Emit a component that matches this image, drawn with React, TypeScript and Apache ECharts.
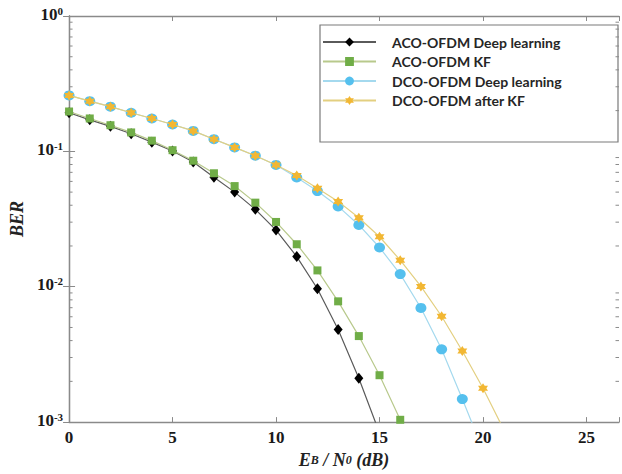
import React, { useEffect, useRef } from "react";
import * as echarts from "echarts";

// Eb/N0 (dB) sample points
const SNR = [0, 1, 2, 3, 4, 5, 6, 7, 8, 9, 10, 11, 12, 13, 14, 15, 16, 17, 18, 19, 20, 21];

// BER values
const acoDeep = [0.193, 0.171, 0.153, 0.135, 0.117, 0.1005, 0.0835, 0.0645, 0.05, 0.0373, 0.0262, 0.0167, 0.00966, 0.00483, 0.00211, 0.00083];
const acoKF = [0.197, 0.175, 0.156, 0.138, 0.12, 0.102, 0.0853, 0.0689, 0.0554, 0.0418, 0.0301, 0.0206, 0.0132, 0.0078, 0.00432, 0.00222, 0.00104];
const dcoDeep = [0.259, 0.235, 0.214, 0.193, 0.175, 0.158, 0.1416, 0.123, 0.107, 0.0929, 0.0794, 0.0641, 0.0509, 0.0392, 0.0286, 0.0195, 0.0124, 0.00697, 0.00345, 0.00148, 0.00062];
const dcoKF = [0.259, 0.235, 0.214, 0.193, 0.175, 0.158, 0.1416, 0.123, 0.107, 0.0929, 0.0794, 0.0663, 0.0533, 0.0427, 0.0323, 0.0234, 0.0157, 0.01005, 0.00605, 0.00335, 0.00178, 0.00088];

const SERIES_NAMES = ["ACO-OFDM Deep learning", "ACO-OFDM KF", "DCO-OFDM Deep learning", "DCO-OFDM after KF"];

// axis ranges / ticks
const X_MIN = 0;
const X_MAX = 26.57;
const X_INTERVAL = 5;
const Y_MIN = 0.001;
const Y_MAX = 1;
const MINOR_TICKS = [0.002, 0.003, 0.004, 0.005, 0.006, 0.007, 0.008, 0.009,
  0.02, 0.03, 0.04, 0.05, 0.06, 0.07, 0.08, 0.09,
  0.2, 0.3, 0.4, 0.5, 0.6, 0.7, 0.8, 0.9];

const AXIS = "#8a8a8a";
const SERIF = "'Liberation Serif', 'Times New Roman', serif";
const HEX = "path://M0,-10 L2.9,-5 L8.66,-5 L5.77,0 L8.66,5 L2.9,5 L0,10 L-2.9,5 L-8.66,5 L-5.77,0 L-8.66,-5 L-2.9,-5 Z";

const pairs = (vals: number[]) => vals.map((v, i) => [SNR[i], v]);

export default function App() {
  const ref = useRef<HTMLDivElement>(null);
  useEffect(() => {
    if (!ref.current) return;
    const chart = echarts.init(ref.current, undefined, { renderer: "svg" });
    const sharedY = {
      type: "log",
      logBase: 10,
      min: Y_MIN,
      max: Y_MAX,
      splitLine: { show: false },
      axisLine: { show: true, lineStyle: { color: AXIS, width: 1.3 } },
      axisTick: { show: true, inside: true, length: 6, lineStyle: { color: AXIS } },
    };
    const sharedX = {
      type: "value",
      min: X_MIN,
      max: X_MAX,
      interval: X_INTERVAL,
      splitLine: { show: false },
      axisLine: { show: true, onZero: false, lineStyle: { color: AXIS, width: 1.3 } },
      axisTick: { show: true, inside: true, length: 5, lineStyle: { color: AXIS } },
    };
    chart.setOption({
      animation: false,
      backgroundColor: "#ffffff",
      grid: { left: 67, right: -3, top: 16, bottom: 49, containLabel: false },
      graphic: [
        {
          type: "rect",
          z: 1,
          shape: { x: 320, y: 25, width: 298, height: 117 },
          style: { fill: "#ffffff", stroke: "#7a7a7a", lineWidth: 1.2 },
        },
      ],
      legend: {
        z: 10,
        orient: "vertical",
        left: 322,
        top: 35,
        padding: 0,
        itemWidth: 53,
        itemHeight: 11,
        itemGap: 5.5,
        data: SERIES_NAMES,
        textStyle: { fontFamily: "Lato, 'Open Sans', sans-serif", fontWeight: "bold", fontSize: 14, color: "#262626", padding: [0, 0, 0, 11] },
      },
      xAxis: [
        {
          ...sharedX,
          position: "bottom",
          name: "{L|E}{s|B}{L| / N}{s|0}{L| (dB)}",
          nameLocation: "middle",
          nameGap: 26,
          nameTextStyle: {
            rich: {
              L: { fontFamily: SERIF, fontSize: 18, fontWeight: "bold", fontStyle: "italic", color: "#222" },
              s: { fontFamily: SERIF, fontSize: 12, fontWeight: "bold", fontStyle: "italic", color: "#222" },
            },
          },
          axisLabel: {
            margin: 7,
            fontFamily: SERIF,
            fontWeight: "bold",
            fontSize: 17,
            color: "#1a1a1a",
            formatter: (v: number) => (v % X_INTERVAL === 0 ? String(v) : ""),
          },
        },
        {
          ...sharedX,
          position: "top",
          axisLabel: { show: false },
        },
      ],
      yAxis: [
        {
          ...sharedY,
          position: "left",
          name: "BER",
          nameLocation: "middle",
          nameGap: 19,
          nameTextStyle: { fontFamily: SERIF, fontSize: 18, fontWeight: "bold", fontStyle: "italic", color: "#222" },
          axisLabel: {
            margin: 6,
            padding: [0, 0, 4, 0],
            formatter: (v: number) => `{b|10}{s|${Math.round(Math.log10(v))}}`,
            rich: {
              b: { fontFamily: SERIF, fontSize: 17, fontWeight: "bold", color: "#1a1a1a", lineHeight: 18 },
              s: { fontFamily: SERIF, fontSize: 11, fontWeight: "bold", color: "#1a1a1a", verticalAlign: "top", lineHeight: 11 },
            },
          },
        },
        {
          ...sharedY,
          position: "right",
          axisLabel: { show: false },
        },
      ],
      series: [
        {
          type: "custom",
          name: "minorTicks",
          silent: true,
          clip: false,
          xAxisIndex: 0,
          yAxisIndex: 0,
          data: MINOR_TICKS.map((v) => [X_MIN, v]),
          renderItem: (params: any, api: any) => {
            const v = api.value(1);
            const p0 = api.coord([X_MIN, v]);
            const p1 = api.coord([X_MAX, v]);
            return {
              type: "group",
              children: [
                { type: "line", shape: { x1: p0[0], y1: p0[1], x2: p0[0] + 3.5, y2: p0[1] }, style: { stroke: AXIS, lineWidth: 1 } },
                { type: "line", shape: { x1: p1[0] - 3.5, y1: p1[1], x2: p1[0], y2: p1[1] }, style: { stroke: AXIS, lineWidth: 1 } },
              ],
            };
          },
        },
        {
          name: SERIES_NAMES[0],
          type: "line",
          data: pairs(acoDeep),
          clip: true,
          symbol: "diamond",
          symbolSize: [9, 11],
          itemStyle: { color: "#000000" },
          lineStyle: { color: "#5a5a5a", width: 1.2 },
          z: 3,
        },
        {
          name: SERIES_NAMES[1],
          type: "line",
          data: pairs(acoKF),
          clip: true,
          symbol: "rect",
          symbolSize: 8,
          itemStyle: { color: "#70ad47" },
          lineStyle: { color: "#b8c98c", width: 1.2 },
          z: 4,
        },
        {
          name: SERIES_NAMES[2],
          type: "line",
          data: pairs(dcoDeep),
          clip: true,
          symbol: "circle",
          symbolSize: [11, 10],
          itemStyle: { color: "#55c0ee" },
          lineStyle: { color: "#a4d9ee", width: 1.2 },
          z: 5,
        },
        {
          name: SERIES_NAMES[3],
          type: "line",
          data: pairs(dcoKF),
          clip: true,
          symbol: HEX,
          symbolSize: 10,
          itemStyle: { color: "#f2b733" },
          lineStyle: { color: "#e3cf80", width: 1.2 },
          z: 6,
        },
      ],
    });
    return () => chart.dispose();
  }, []);
  return <div ref={ref} style={{ position: "fixed", left: 0, top: 0, width: 622, height: 474 }} />;
}
